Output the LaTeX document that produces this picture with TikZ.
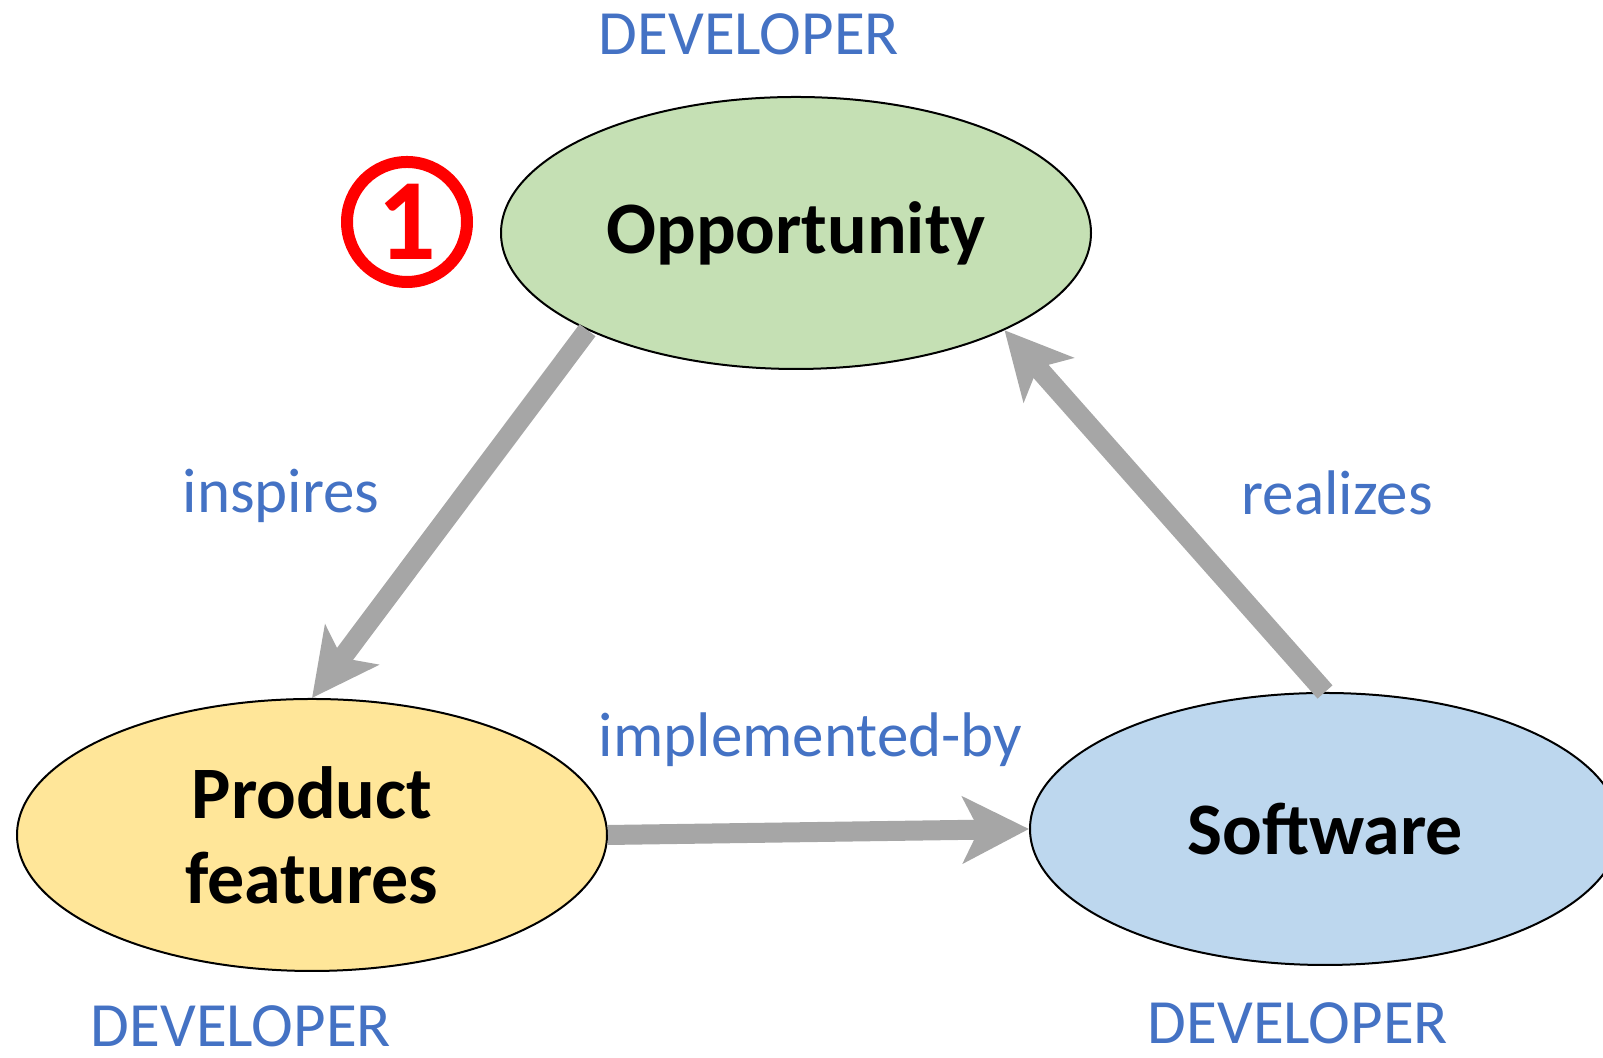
\documentclass[tikz,border=0pt]{standalone}
\usepackage{fontspec}
\setmainfont{Carlito}
\usepackage{tikz}
\usetikzlibrary{shapes.geometric,arrows.meta}

\definecolor{oppgreen}{HTML}{C5E0B4}
\definecolor{featyellow}{HTML}{FFE699}
\definecolor{softblue}{HTML}{BDD7EE}
\definecolor{labelblue}{HTML}{4472C4}
\definecolor{arrowgray}{HTML}{A6A6A6}

\tikzset{
  thing/.style={ellipse,draw=black,line width=1pt,inner sep=0pt,
    minimum width=295pt,minimum height=136pt,align=center,
    font=\fontsize{37}{42.5}\selectfont\bfseries},
  role/.style={text=labelblue,inner sep=1pt,font=\fontsize{31.5}{37}\selectfont},
  flow/.style={draw=arrowgray,line width=10pt,
    -{Stealth[length=33pt,width=33pt,inset=8pt]}}
}

\begin{document}
\begin{tikzpicture}[x=.5pt,y=.5pt]
\useasboundingbox (0,0) rectangle (1603,1058);
\node[thing,fill=oppgreen] (opp) at (796,825) {Opportunity};
\node[thing,fill=featyellow] (feat) at (312,223) {Product\\features};
\node[thing,fill=softblue] (soft) at (1325,229) {Software};
%
\node[role] (devopp) at (749,1024) {DEVELOPER};
\node[role] (devfeat) at (241,32) {DEVELOPER};
\node[role] (devsoft) at (1298,35) {DEVELOPER};
%
\draw[flow] (opp.205) -- (feat.north) node[role,pos=.45,left=36pt] {inspires};
\draw[flow] (feat.east) -- (soft.west) node[role,midway,above=26.8pt,xshift=-4pt] {implemented-by};
\draw[flow] (soft.north) -- (opp.-25) node[role,pos=.55,right=40.5pt] {realizes};
%
\node[circle,draw=red,line width=6pt,minimum size=60pt,inner sep=0pt,text=red,
  font=\fontsize{58}{60}\selectfont\bfseries] (one) at (407,836) {1};
\end{tikzpicture}
\end{document}
